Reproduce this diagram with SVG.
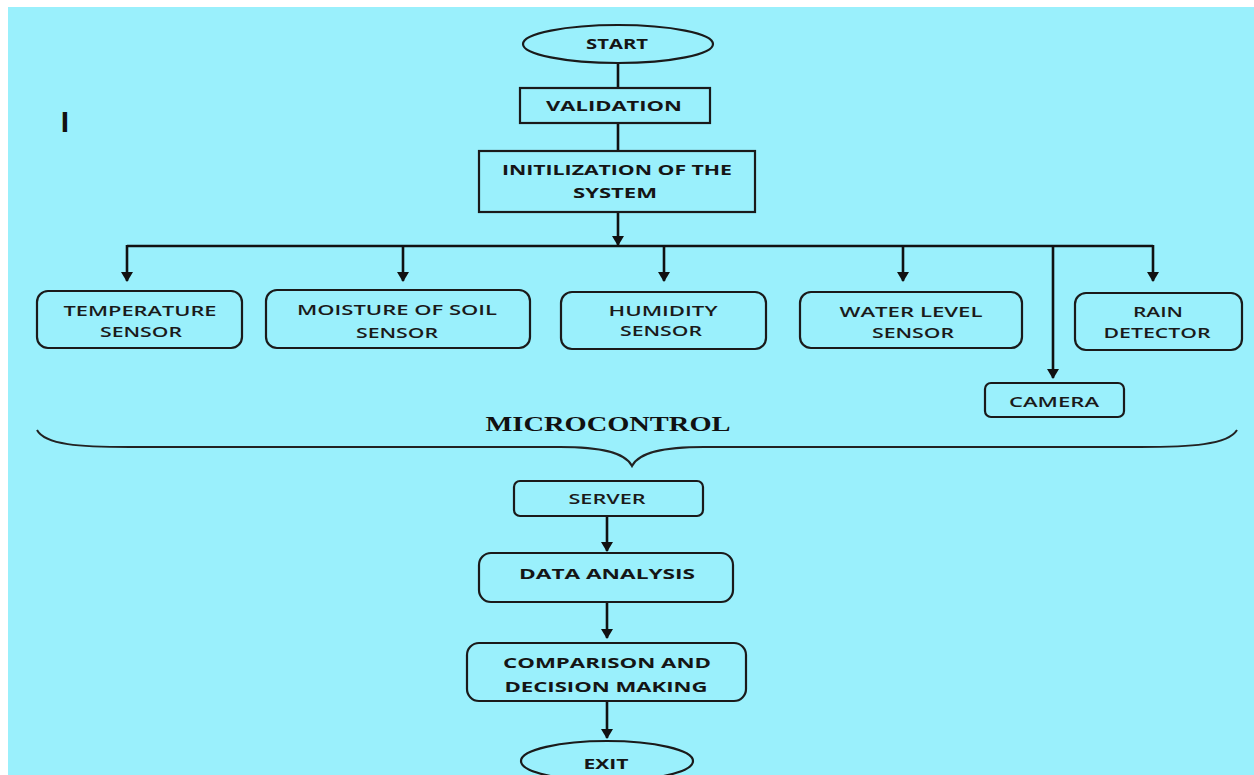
<svg xmlns="http://www.w3.org/2000/svg" width="1254" height="775" viewBox="0 0 1254 775">
<defs>
<marker id="ah" markerUnits="userSpaceOnUse" markerWidth="10" markerHeight="12" refX="9" refY="6" orient="auto" viewBox="0 0 10 12">
<path d="M0,0 L10,6 L0,12 Z" fill="#111"/>
</marker>
<style>
.bg{fill:#9af0fc}
.box{fill:none;stroke:#1a1a1a;stroke-width:2.2}
.ln{fill:none;stroke:#111;stroke-width:2.6}
.h{font-family:"Open Sans","DejaVu Sans",sans-serif;font-weight:700;font-size:15px;fill:#151515;text-anchor:middle}
.s{font-family:"Open Sans","DejaVu Sans",sans-serif;font-weight:600;font-size:15px;fill:#1a1a1a;text-anchor:middle}
.m{font-family:"Liberation Serif","Times New Roman",serif;font-weight:700;font-size:21px;fill:#111;text-anchor:middle}
</style>
</defs>
<rect class="bg" x="8" y="7" width="1246" height="768"/>
<text x="65" y="132" font-family="'Liberation Sans',Arial,sans-serif" font-weight="700" font-size="30" fill="#111" text-anchor="middle">I</text>

<g id="connectors">
<line class="ln" x1="618" y1="63" x2="618" y2="88"/>
<line class="ln" x1="618" y1="123" x2="618" y2="151"/>
<line class="ln" x1="618" y1="212" x2="618" y2="245" marker-end="url(#ah)"/>
<line class="ln" x1="127" y1="246" x2="1153" y2="246"/>
<line class="ln" x1="127" y1="245" x2="127" y2="281" marker-end="url(#ah)"/>
<line class="ln" x1="403" y1="245" x2="403" y2="281" marker-end="url(#ah)"/>
<line class="ln" x1="664" y1="245" x2="664" y2="281" marker-end="url(#ah)"/>
<line class="ln" x1="903" y1="245" x2="903" y2="281" marker-end="url(#ah)"/>
<line class="ln" x1="1053" y1="245" x2="1053" y2="378" marker-end="url(#ah)"/>
<line class="ln" x1="1153" y1="245" x2="1153" y2="281" marker-end="url(#ah)"/>
<path d="M37,430 C45,445 80,447 130,447 L560,447 C600,447 625,452 632,466 C639,452 664,447 704,447 L1140,447 C1190,447 1228,445 1237,430" fill="none" stroke="#222" stroke-width="2"/>
<line class="ln" x1="607" y1="516" x2="607" y2="551" marker-end="url(#ah)"/>
<line class="ln" x1="607" y1="602" x2="607" y2="638" marker-end="url(#ah)"/>
<line class="ln" x1="607" y1="701" x2="607" y2="738" marker-end="url(#ah)"/>
</g>

<g id="start">
<ellipse class="box" cx="618" cy="44" rx="95" ry="19"/>
<text class="h" x="617" y="49" font-size="14" textLength="62" lengthAdjust="spacingAndGlyphs">START</text>
</g>
<g id="validation">
<rect class="box" x="520" y="88" width="190" height="35"/>
<text class="h" x="614" y="111" font-size="16" textLength="136" lengthAdjust="spacingAndGlyphs">VALIDATION</text>
</g>
<g id="init">
<rect class="box" x="479" y="151" width="276" height="61"/>
<text class="h" x="617" y="175" font-size="16" textLength="230" lengthAdjust="spacingAndGlyphs">INITILIZATION OF THE</text>
<text class="h" x="615" y="198" font-size="16" textLength="84" lengthAdjust="spacingAndGlyphs">SYSTEM</text>
</g>
<g id="temperature">
<rect class="box" x="37" y="291" width="205" height="57" rx="11"/>
<text class="s" x="140" y="316" textLength="153" lengthAdjust="spacingAndGlyphs">TEMPERATURE</text>
<text class="s" x="141" y="337" textLength="82" lengthAdjust="spacingAndGlyphs">SENSOR</text>
</g>
<g id="moisture">
<rect class="box" x="266" y="290" width="264" height="58" rx="11"/>
<text class="s" x="397" y="315" textLength="200" lengthAdjust="spacingAndGlyphs">MOISTURE OF SOIL</text>
<text class="s" x="397" y="338" textLength="82" lengthAdjust="spacingAndGlyphs">SENSOR</text>
</g>
<g id="humidity">
<rect class="box" x="561" y="292" width="205" height="57" rx="11"/>
<text class="s" x="663" y="316" textLength="109" lengthAdjust="spacingAndGlyphs">HUMIDITY</text>
<text class="s" x="661" y="336" textLength="82" lengthAdjust="spacingAndGlyphs">SENSOR</text>
</g>
<g id="waterlevel">
<rect class="box" x="800" y="292" width="222" height="56" rx="11"/>
<text class="s" x="911" y="317" textLength="143" lengthAdjust="spacingAndGlyphs">WATER LEVEL</text>
<text class="s" x="913" y="338" textLength="82" lengthAdjust="spacingAndGlyphs">SENSOR</text>
</g>
<g id="rain">
<rect class="box" x="1075" y="293" width="167" height="57" rx="11"/>
<text class="s" x="1158" y="317" textLength="50" lengthAdjust="spacingAndGlyphs">RAIN</text>
<text class="s" x="1157" y="338" textLength="107" lengthAdjust="spacingAndGlyphs">DETECTOR</text>
</g>
<g id="camera">
<rect class="box" x="985" y="383" width="139" height="34" rx="6"/>
<text class="s" x="1054" y="407" textLength="90" lengthAdjust="spacingAndGlyphs">CAMERA</text>
</g>
<g id="microcontrol">
<text class="m" x="608" y="431" textLength="245" lengthAdjust="spacingAndGlyphs">MICROCONTROL</text>
</g>
<g id="server">
<rect class="box" x="514" y="481" width="189" height="35" rx="6"/>
<text class="s" x="607" y="504" textLength="77" lengthAdjust="spacingAndGlyphs">SERVER</text>
</g>
<g id="analysis">
<rect class="box" x="479" y="553" width="254" height="49" rx="12"/>
<text class="h" x="607" y="579" font-size="16" textLength="176" lengthAdjust="spacingAndGlyphs">DATA ANALYSIS</text>
</g>
<g id="comparison">
<rect class="box" x="467" y="643" width="279" height="58" rx="12"/>
<text class="h" x="607" y="668" font-size="16" textLength="208" lengthAdjust="spacingAndGlyphs">COMPARISON AND</text>
<text class="h" x="606" y="692" font-size="16" textLength="203" lengthAdjust="spacingAndGlyphs">DECISION MAKING</text>
</g>
<g id="exit">
<ellipse class="box" cx="607" cy="761" rx="86" ry="20"/>
<text class="h" x="606" y="769" font-size="15" textLength="45" lengthAdjust="spacingAndGlyphs">EXIT</text>
</g>
</svg>
